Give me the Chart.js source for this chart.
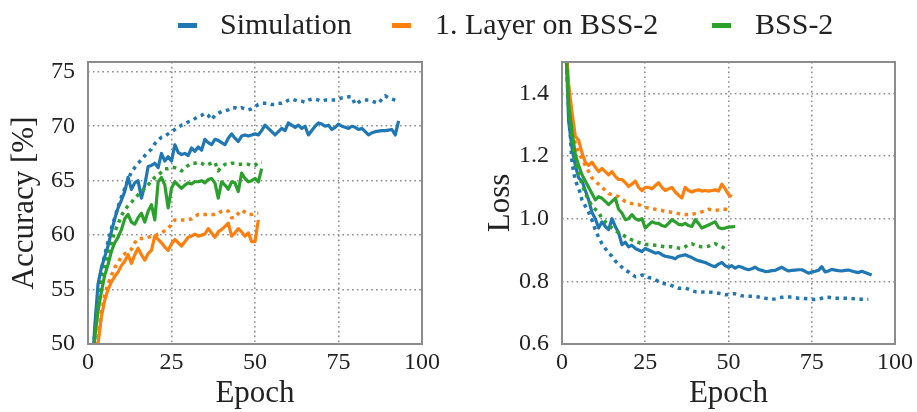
<!DOCTYPE html>
<html>
<head>
<meta charset="utf-8">
<script src="https://cdn.jsdelivr.net/npm/chart.js@4/dist/chart.umd.min.js"></script>
<style>
  html, body { margin: 0; padding: 0; background: #fff; }
  #wrap { position: relative; width: 917px; height: 412px; overflow: hidden; font-family: "Liberation Serif", serif; color: #222; }
  #c1 { position: absolute; left: 0; top: 0; }
  #c2 { position: absolute; left: 460px; top: 0; }
  .lg-h { position: absolute; top: 23px; width: 19px; height: 5px; }
  .lg-t { position: absolute; top: 6px; font-size: 30px; line-height: 36px; white-space: nowrap; color: #222; }
</style>
</head>
<body>
<div id="wrap">
  <canvas id="c1" width="450" height="412"></canvas>
  <canvas id="c2" width="457" height="412"></canvas>
  <div class="lg-h" style="left:178px;background:#1f77b4"></div>
  <div class="lg-t" style="left:220px">Simulation</div>
  <div class="lg-h" style="left:392px;background:#ff7f0e"></div>
  <div class="lg-t" style="left:435px">1. Layer on BSS-2</div>
  <div class="lg-h" style="left:712px;background:#2ca02c"></div>
  <div class="lg-t" style="left:755px">BSS-2</div>
</div>
<script>
// ---- Data (epoch = index + 1) ----
const seriesNames = ["Simulation", "1. Layer on BSS-2", "BSS-2"];
const xTicks = [0, 25, 50, 75, 100];
const accTicks = [50, 55, 60, 65, 70, 75];
const lossTicks = [0.6, 0.8, 1.0, 1.2, 1.4];

const simAccTest = [46,51.5,55.5,57,58,59,60.3,61.5,62.5,63.2,64,65.3,64.2,64.8,65,63.4,64.6,66.3,66.4,66.6,66.2,67.5,66.8,67.2,66.8,68.3,67.6,67.4,67.5,67.3,68,67.7,68.1,67.8,68.8,68.5,68.3,68.8,68.7,68.5,68.3,68.9,69.3,68.9,68.6,69.1,69.2,69.1,69.2,69.3,69.2,69.6,70.1,69.8,69.5,69.2,69.5,69.8,69.6,70.3,70.1,69.9,70.1,69.8,70.0,69.2,69.6,70.0,70.3,70.2,70.0,70.1,69.7,69.9,70.2,70.0,69.9,69.8,70.0,69.9,69.7,69.8,69.5,69.2,69.4,69.5,69.55,69.6,69.6,69.65,69.7,69.2,70.5];
const simAccTrain = [46,51,54.5,56.8,58.2,59.4,60.6,61.6,62.6,63.5,64.3,65.1,65.8,66.2,66.6,66.9,67.3,67.6,67.9,68.4,68.7,69.0,69.1,69.3,69.5,69.7,69.9,70.1,70.2,70.4,70.5,70.7,70.9,71.0,71.2,71.0,70.6,71.0,71.2,71.35,71.4,71.5,71.7,71.7,71.6,71.7,71.6,71.5,71.6,71.8,72.0,72.1,72.1,72.1,72.0,72.0,72.1,72.1,72.2,72.4,72.5,72.4,72.3,72.3,72.2,72.4,72.5,72.5,72.4,72.3,72.4,72.4,72.4,72.4,72.5,72.6,72.6,72.7,72.7,72.0,72.2,72.4,72.4,72.4,72.3,72.2,72.1,72.5,72.8,72.6,72.5,72.4];
const layerAccTest = [44,47,50,52.5,54,55,55.7,56.2,56.6,57.2,57.6,58.2,57.4,58.2,58.8,58.2,57.7,58.3,58.6,59.9,59.6,59.3,58.9,58.6,59.2,59.6,59.3,59.0,59.4,59.8,59.9,60.1,59.9,60.0,60.1,60.6,60.2,59.8,60.3,60.5,60.8,61.1,59.9,60.2,60.6,60.3,59.9,60.2,59.4,59.4,61.4];
const layerAccTrain = [44,47,50.5,52.8,54.5,55.5,56.3,57,57.5,58,58.3,58.5,58.7,59.3,59.7,59.7,59.7,59.8,59.9,59.9,60.1,60.2,60.4,60.6,61.0,61.4,61.4,61.4,61.4,61.4,61.5,61.7,61.9,61.9,61.9,61.9,61.9,61.9,62.0,62.2,62.3,62.2,61.6,61.6,62.0,62.3,62.1,61.9,61.9,62.0,62.0];
const bssAccTest = [46,50.5,53,54.8,56.3,57.3,58.5,59.3,59.8,60.5,61.5,61.9,61.2,61.0,61.6,62.0,61.2,62.2,62.8,61.4,64.9,65.3,64.6,62.5,64.3,64.9,64.6,64.3,64.6,64.8,64.7,64.9,64.9,65.0,64.8,65.1,65.2,64.8,63.4,64.9,64.6,64.2,64.9,64.8,64.0,65.7,65.2,64.9,65.0,65.2,64.9,66.1];
const bssAccTrain = [46,50.5,53.5,55.5,57,58.3,59.3,60.3,61.0,61.8,62.3,62.7,63.0,63.4,63.7,64.0,64.3,64.6,65.0,65.3,65.5,65.8,66.1,66.1,66.2,66.2,66.1,65.9,66.2,66.4,66.6,66.6,66.7,66.6,66.4,66.5,66.6,66.7,65.9,66.3,66.5,66.5,66.6,66.6,66.5,66.5,66.5,66.5,66.4,66.4,66.7,66.7];

const simLossTest = [1.62,1.31,1.226,1.17,1.13,1.12,1.09,1.06,1.02,1.0,0.97,0.99,0.975,0.965,1.0,0.975,0.955,0.917,0.925,0.91,0.915,0.905,0.9,0.895,0.905,0.9,0.895,0.89,0.892,0.885,0.88,0.878,0.876,0.872,0.88,0.882,0.885,0.88,0.876,0.87,0.866,0.863,0.86,0.855,0.85,0.847,0.855,0.86,0.85,0.845,0.85,0.842,0.848,0.845,0.84,0.837,0.84,0.845,0.838,0.835,0.831,0.832,0.834,0.835,0.84,0.845,0.838,0.833,0.835,0.836,0.837,0.837,0.832,0.826,0.83,0.832,0.835,0.847,0.83,0.833,0.838,0.836,0.834,0.833,0.835,0.836,0.833,0.83,0.828,0.832,0.828,0.824,0.82];
const simLossTrain = [1.6,1.35,1.18,1.12,1.098,1.06,1.04,1.02,0.995,0.965,0.94,0.92,0.905,0.89,0.88,0.865,0.855,0.845,0.835,0.83,0.822,0.815,0.815,0.82,0.818,0.812,0.81,0.805,0.8,0.794,0.792,0.79,0.786,0.782,0.778,0.778,0.778,0.775,0.77,0.767,0.767,0.766,0.766,0.765,0.765,0.764,0.762,0.76,0.757,0.758,0.76,0.76,0.757,0.754,0.752,0.752,0.752,0.752,0.75,0.748,0.746,0.745,0.743,0.744,0.747,0.749,0.75,0.75,0.75,0.748,0.746,0.746,0.745,0.744,0.743,0.742,0.743,0.746,0.749,0.749,0.747,0.746,0.746,0.746,0.746,0.746,0.745,0.744,0.743,0.743,0.743,0.743];
const layerLossTest = [1.6,1.43,1.34,1.263,1.25,1.21,1.18,1.17,1.18,1.165,1.15,1.16,1.15,1.14,1.15,1.135,1.125,1.125,1.115,1.103,1.11,1.12,1.1,1.09,1.1,1.1,1.095,1.105,1.115,1.1,1.09,1.095,1.1,1.085,1.075,1.066,1.1,1.09,1.085,1.09,1.092,1.088,1.09,1.088,1.09,1.092,1.088,1.11,1.095,1.077,1.07];
const layerLossTrain = [1.58,1.4,1.3,1.24,1.21,1.19,1.17,1.15,1.13,1.12,1.11,1.1,1.09,1.08,1.077,1.075,1.07,1.062,1.055,1.05,1.048,1.046,1.045,1.04,1.036,1.034,1.032,1.03,1.028,1.026,1.023,1.022,1.02,1.018,1.016,1.014,1.013,1.013,1.014,1.016,1.018,1.022,1.026,1.03,1.028,1.026,1.028,1.03,1.03,1.03];
const bssLossTest = [1.6,1.365,1.28,1.205,1.17,1.14,1.12,1.1,1.08,1.06,1.07,1.065,1.055,1.045,1.055,1.065,1.03,1.018,0.997,1.0,1.013,1.0,0.995,1.0,0.97,0.98,0.99,0.986,0.985,0.978,0.975,0.985,0.997,0.99,0.982,0.98,0.985,0.978,0.975,0.997,0.985,0.97,0.975,0.98,0.985,0.99,0.972,0.968,0.97,0.973,0.974,0.975];
const bssLossTrain = [1.58,1.35,1.25,1.18,1.14,1.11,1.08,1.06,1.04,1.03,1.02,1.0,0.99,0.98,0.97,0.962,0.955,0.95,0.943,0.937,0.932,0.928,0.924,0.92,0.918,0.917,0.916,0.915,0.914,0.912,0.91,0.91,0.91,0.908,0.906,0.905,0.91,0.918,0.92,0.915,0.912,0.91,0.91,0.912,0.918,0.92,0.915,0.91,0.905,0.9];

// ---- Styles ----
const colors = ["#1f77b4", "#ff7f0e", "#2ca02c"];
const FONT = "'Liberation Serif', 'Times New Roman', serif";
const TEXT = "#222222";

function pts(arr) { return arr.map((v, i) => ({ x: i + 1, y: v })); }

function ds(label, arr, ci, dotted, order) {
  return {
    label: label,
    data: pts(arr),
    borderColor: colors[ci],
    backgroundColor: colors[ci],
    borderWidth: dotted ? 3.5 : 3.2,
    borderDash: dotted ? [3.5, 4.5] : [],
    borderCapStyle: 'butt',
    borderJoinStyle: 'round',
    pointRadius: 0,
    tension: 0,
    fill: false,
    order: order
  };
}

const framePlugin = {
  id: 'frame',
  afterDraw(chart) {
    const a = chart.chartArea, ctx = chart.ctx;
    ctx.save();
    ctx.strokeStyle = '#8c8c8c';
    ctx.lineWidth = 2;
    ctx.setLineDash([]);
    ctx.strokeRect(a.left, a.top, a.right - a.left, a.bottom - a.top);
    ctx.restore();
  }
};

function makeChart(id, datasets, yMin, yMax, yTickList, yTitle, yWidth, rightPad, titlePad, fmt) {
  return new Chart(document.getElementById(id), {
    type: 'line',
    data: { datasets: datasets },
    plugins: [framePlugin],
    options: {
      responsive: false,
      animation: false,
      events: [],
      layout: { padding: { top: 62, right: rightPad, left: 0, bottom: 0 } },
      plugins: { legend: { display: false }, tooltip: { enabled: false } },
      scales: {
        x: {
          type: 'linear', min: 0, max: 100,
          afterFit(s) { s.height = 68; },
          afterBuildTicks(s) { s.ticks = xTicks.map(v => ({ value: v })); },
          grid: { color: '#8f8f8f', lineWidth: 1.6, drawTicks: false },
          border: { display: false, dash: [1.6, 3.2] },
          ticks: { color: TEXT, font: { family: FONT, size: 24 }, padding: 4, maxRotation: 0 },
          title: { display: true, text: 'Epoch', color: TEXT, font: { family: FONT, size: 31 }, padding: { top: 0, bottom: 0 } }
        },
        y: {
          type: 'linear', min: yMin, max: yMax,
          afterFit(s) { s.width = yWidth; },
          afterBuildTicks(s) { s.ticks = yTickList.map(v => ({ value: v })); },
          grid: { color: '#8f8f8f', lineWidth: 1.6, drawTicks: false },
          border: { display: false, dash: [1.6, 3.2] },
          ticks: { color: TEXT, font: { family: FONT, size: 24 }, padding: 13, callback: fmt },
          title: { display: true, text: yTitle, color: TEXT, font: { family: FONT, size: 31 }, padding: titlePad }
        }
      }
    }
  });
}

makeChart('c1', [
  ds(seriesNames[0], simAccTest, 0, false, 6),
  ds(seriesNames[0], simAccTrain, 0, true, 5),
  ds(seriesNames[1], layerAccTest, 1, false, 4),
  ds(seriesNames[1], layerAccTrain, 1, true, 3),
  ds(seriesNames[2], bssAccTest, 2, false, 2),
  ds(seriesNames[2], bssAccTrain, 2, true, 1)
], 50, 75.9, accTicks, 'Accuracy [%]', 88, 28, { top: 6, bottom: 0 }, v => String(v));

makeChart('c2', [
  ds(seriesNames[0], simLossTest, 0, false, 6),
  ds(seriesNames[0], simLossTrain, 0, true, 5),
  ds(seriesNames[1], layerLossTest, 1, false, 4),
  ds(seriesNames[1], layerLossTrain, 1, true, 3),
  ds(seriesNames[2], bssLossTest, 2, false, 2),
  ds(seriesNames[2], bssLossTrain, 2, true, 1)
], 0.6, 1.5, lossTicks, 'Loss', 102, 20, { top: 22, bottom: 0 }, v => Number(v).toFixed(1));
</script>
</body>
</html>
